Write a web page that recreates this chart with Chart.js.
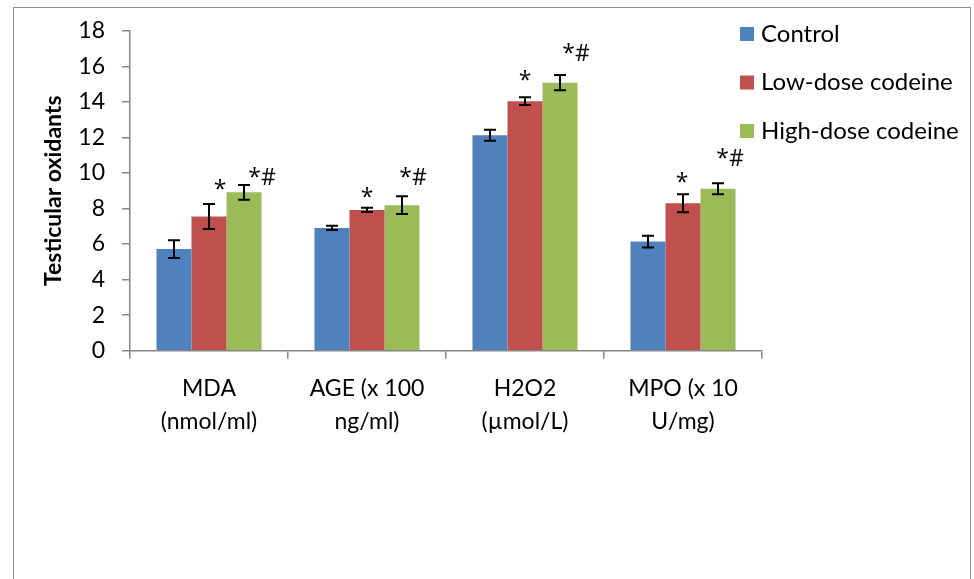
<!DOCTYPE html>
<html>
<head>
<meta charset="utf-8">
<script src="https://cdn.jsdelivr.net/npm/chart.js@4.4.1/dist/chart.umd.min.js"></script>
<style>
  html, body { margin: 0; padding: 0; background: #ffffff; }
  #wrap { position: relative; width: 974px; height: 579px; overflow: hidden; }
  #frame { position: absolute; left: 13px; top: 7px; width: 958px; height: 600px;
           border: 1.5px solid #8e8e8e; border-bottom: none; box-sizing: border-box; }
  canvas { position: absolute; left: 0; top: 0; }
</style>
</head>
<body>
<div id="wrap">
  <div id="frame"></div>
  <canvas id="chart" width="974" height="579"></canvas>
</div>
<script>
// Categories (two-line axis labels)
const categories = [
  ["MDA", "(nmol/ml)"],
  ["AGE (x 100", "ng/ml)"],
  ["H2O2", "(\u00b5mol/L)"],
  ["MPO (x 10", "U/mg)"]
];

// Group means
const controlValues = [5.72, 6.91, 12.12, 6.14];
const lowDoseValues = [7.55, 7.92, 14.04, 8.30];
const highDoseValues = [8.91, 8.19, 15.08, 9.11];

// Error bar half-lengths
const controlErrors = [0.50, 0.12, 0.31, 0.33];
const lowDoseErrors = [0.70, 0.12, 0.22, 0.51];
const highDoseErrors = [0.41, 0.50, 0.43, 0.31];

// Significance marks
const controlMarks = ["", "", "", ""];
const lowDoseMarks = ["*", "*", "*", "*"];
const highDoseMarks = ["*#", "*#", "*#", "*#"];

// Y axis ticks
const yMin = 0, yMax = 18, yStep = 2;

const FONT = "Lato, 'Open Sans', sans-serif";
const MARK_FONT = "'Open Sans', 'DejaVu Sans', sans-serif";
const AXIS_GRAY = '#868686';

// Error bars + significance marks drawn on top of the bars
const errorBarPlugin = {
  id: 'errorBars',
  afterDatasetsDraw(chart, args, opts) {
    const ctx = chart.ctx;
    const yScale = chart.scales.y;
    chart.data.datasets.forEach((ds, di) => {
      const meta = chart.getDatasetMeta(di);
      meta.data.forEach((bar, i) => {
        const v = ds.data[i], e = ds.errors[i];
        const yTop = yScale.getPixelForValue(v + e);
        const yBot = yScale.getPixelForValue(v - e);
        const x = bar.x;
        ctx.save();
        ctx.strokeStyle = '#000000';
        ctx.lineWidth = 2;
        ctx.beginPath();
        ctx.moveTo(x, yTop); ctx.lineTo(x, yBot);
        ctx.moveTo(x - 6, yTop); ctx.lineTo(x + 6, yTop);
        ctx.moveTo(x - 6, yBot); ctx.lineTo(x + 6, yBot);
        ctx.stroke();
        const mark = ds.marks[i];
        if (mark) {
          const off = opts.offsets[di][i];
          ctx.fillStyle = '#000000';
          ctx.font = '23px ' + MARK_FONT;
          ctx.textAlign = 'center';
          ctx.textBaseline = 'alphabetic';
          ctx.fillText(mark, x + off[0], yTop + off[1]);
        }
        ctx.restore();
      });
    });
  }
};

// Legend block to the right of the plot
const sideLegendPlugin = {
  id: 'sideLegend',
  afterDraw(chart, args, opts) {
    const ctx = chart.ctx;
    ctx.save();
    ctx.font = opts.fontSize + 'px ' + FONT;
    ctx.textBaseline = 'middle';
    ctx.textAlign = 'left';
    chart.data.datasets.forEach((ds, i) => {
      const cy = opts.top + i * opts.rowGap;
      ctx.fillStyle = ds.backgroundColor;
      ctx.fillRect(opts.left, cy - opts.box / 2, opts.box, opts.box);
      ctx.fillStyle = '#000000';
      ctx.fillText(ds.label, opts.left + opts.box + 7, cy);
    });
    ctx.restore();
  }
};

new Chart(document.getElementById('chart'), {
  type: 'bar',
  data: {
    labels: categories,
    datasets: [
      { label: 'Control', data: controlValues, errors: controlErrors, marks: controlMarks,
        backgroundColor: '#4F81BD' },
      { label: 'Low-dose codeine', data: lowDoseValues, errors: lowDoseErrors, marks: lowDoseMarks,
        backgroundColor: '#C0504D' },
      { label: 'High-dose codeine', data: highDoseValues, errors: highDoseErrors, marks: highDoseMarks,
        backgroundColor: '#9BBB59' }
    ]
  },
  plugins: [errorBarPlugin, sideLegendPlugin],
  options: {
    responsive: false,
    animation: false,
    devicePixelRatio: 1,
    layout: { padding: { left: 0, top: 23, right: 212, bottom: 0 } },
    datasets: { bar: { categoryPercentage: 0.665, barPercentage: 1.0, borderWidth: 0 } },
    plugins: {
      legend: { display: false },
      tooltip: { enabled: false },
      errorBars: {
        offsets: [
          [[0, 0], [0, 0], [0, 0], [0, 0]],
          [[11, -7], [0, -3], [0, -9], [-1, -4]],
          [[18, 0], [11, -11], [16, -14], [12, -17]]
        ]
      },
      sideLegend: { left: 740, top: 34, rowGap: 48.5, box: 14, fontSize: 24 }
    },
    scales: {
      x: {
        grid: { display: true, offset: true, drawOnChartArea: false, drawTicks: true,
                tickLength: 8, color: AXIS_GRAY, lineWidth: 1.5 },
        border: { display: true, color: AXIS_GRAY, width: 1.5 },
        ticks: { color: '#000000', padding: 13, maxRotation: 0,
                 font: { family: FONT, size: 23, lineHeight: '33px' } },
        afterFit(scale) { scale.height = 228.3; }
      },
      y: {
        min: yMin, max: yMax,
        grid: { display: true, drawOnChartArea: false, drawTicks: true,
                tickLength: 8, color: AXIS_GRAY, lineWidth: 1.5 },
        border: { display: true, color: AXIS_GRAY, width: 1.5 },
        ticks: { stepSize: yStep, color: '#000000', padding: 17,
                 font: { family: FONT, size: 23 } },
        title: { display: true, text: 'Testicular oxidants', color: '#000000',
                 font: { family: FONT, size: 23, weight: 'bold' },
                 padding: { top: 40, bottom: 0 } },
        afterFit(scale) { scale.width = 130; }
      }
    }
  }
});
</script>
</body>
</html>
